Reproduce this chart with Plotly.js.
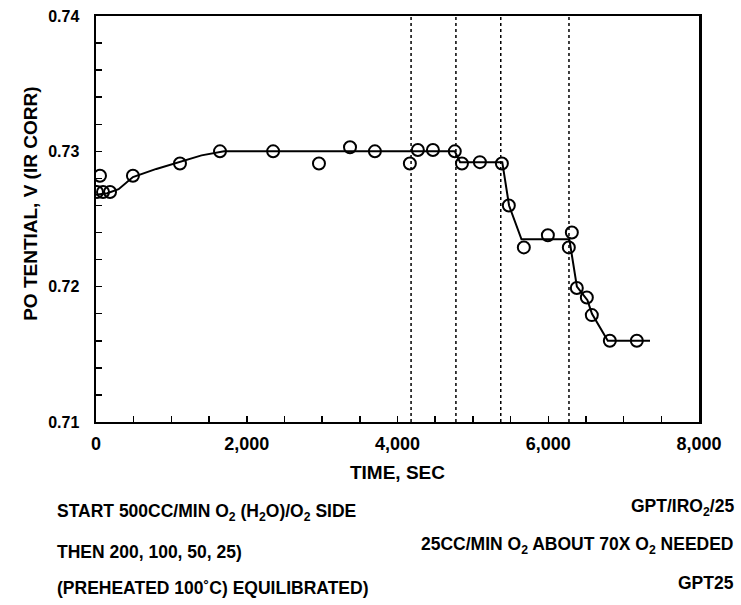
<!DOCTYPE html>
<html>
<head>
<meta charset="utf-8">
<script src="https://cdn.plot.ly/plotly-3.0.1.min.js"></script>
<style>
html,body{margin:0;padding:0;background:#fff;}
#chart{width:741px;height:605px;}
</style>
</head>
<body>
<div id="chart"></div>
<script>
// Measured points
var timeSec = [13, 53, 93, 186, 490, 1114, 1645, 2350, 2958, 3370, 3700, 4164, 4270, 4470, 4760, 4855, 5093, 5385, 5477, 5676, 5995, 6313, 6273, 6379, 6512, 6578, 6817, 7175];
var potential = [0.7270, 0.7282, 0.7270, 0.7270, 0.7282, 0.7291, 0.7300, 0.7300, 0.7291, 0.7303, 0.7300, 0.7291, 0.7301, 0.7301, 0.7300, 0.7291, 0.7292, 0.7291, 0.7260, 0.7229, 0.7238, 0.7240, 0.7229, 0.7199, 0.7192, 0.7179, 0.7160, 0.7160];

// Hand-drawn fitted curve
var fitTime = [0, 150, 300, 490, 800, 1114, 1400, 1700, 2400, 3000, 3700, 4300, 4760, 4830, 5100, 5390, 5480, 5645, 6000, 6280, 6380, 6520, 6580, 6790, 7350];
var fitPotential = [0.7268, 0.7269, 0.7272, 0.7281, 0.7287, 0.7292, 0.7297, 0.7300, 0.7300, 0.7300, 0.7300, 0.7300, 0.7300, 0.7292, 0.7292, 0.7292, 0.7260, 0.7235, 0.7235, 0.7235, 0.7200, 0.7190, 0.7180, 0.7160, 0.7160];

// Vertical dotted markers (flow changes)
var changeTimes = [4180, 4775, 5370, 6275];

var xTickVals = [0, 2000, 4000, 6000, 8000];
var xTickText = ['0', '2,000', '4,000', '6,000', '8,000'];
var yTickVals = [0.71, 0.72, 0.73, 0.74];
var yTickText = ['0.71', '0.72', '0.73', '0.74'];

var yTitle = 'PO TENTIAL, V (IR CORR)';
var xTitle = 'TIME, SEC';

var noteLeft = [
  'START 500CC/MIN O<sub>2</sub> (H<sub>2</sub>O)/O<sub>2</sub> SIDE',
  'THEN 200, 100, 50, 25)',
  '(PREHEATED 100\u02DAC) EQUILIBRATED)'
];
var noteRight = [
  'GPT/IRO<sub>2</sub>/25',
  '25CC/MIN O<sub>2</sub> ABOUT 70X O<sub>2</sub> NEEDED',
  'GPT25'
];

// detect a condensed font
function hasFont(name) {
  var c = document.createElement('canvas').getContext('2d');
  var s = 'START 500CC/MIN 2,000';
  c.font = 'bold 40px monospace';
  var w0 = c.measureText(s).width;
  c.font = 'bold 40px "' + name + '", monospace';
  var w1 = c.measureText(s).width;
  return Math.abs(w1 - w0) > 1;
}
var narrow = hasFont('Liberation Sans Narrow');
var FONT = narrow ? 'Liberation Sans Narrow, Liberation Sans, Arial, sans-serif' : 'Liberation Sans, Arial, sans-serif';
var SZ = narrow ? {xt: 21, yt: 18, note: 21, xtitle: 22, ytitle: 22} : {xt: 18, yt: 16, note: 17.5, xtitle: 19, ytitle: 19};

var traces = [
  {x: fitTime, y: fitPotential, mode: 'lines', type: 'scatter',
   line: {color: '#000', width: 2}, hoverinfo: 'skip', showlegend: false},
  {x: timeSec, y: potential, mode: 'markers', type: 'scatter',
   marker: {symbol: 'circle-open', size: 12, color: '#000', line: {width: 2, color: '#000'}},
   showlegend: false}
];

var shapes = changeTimes.map(function(t){
  return {type: 'line', xref: 'x', yref: 'paper', x0: t, x1: t, y0: 0, y1: 1,
          line: {color: '#000', width: 1.5, dash: 'dot'}};
});

var leftY = [-0.2217, -0.3202, -0.4089];
var rightY = [-0.2094, -0.3030, -0.3966];
var annotations = [];
for (var i = 0; i < noteLeft.length; i++) {
  annotations.push({xref: 'paper', yref: 'paper', x: -0.068, y: leftY[i], xanchor: 'left', yanchor: 'middle',
    text: noteLeft[i], showarrow: false, font: {family: FONT, size: SZ.note, color: '#000', weight: 'bold'}});
  annotations.push({xref: 'paper', yref: 'paper', x: 1.062, y: rightY[i], xanchor: 'right', yanchor: 'middle',
    text: noteRight[i], showarrow: false, font: {family: FONT, size: SZ.note, color: '#000', weight: 'bold'}});
}
// y-axis title (rotated), placed slightly above the plot centre as in the original
annotations.push({xref: 'paper', yref: 'paper', x: -0.108, y: 0.537, xanchor: 'center', yanchor: 'middle',
  textangle: -90, text: yTitle, showarrow: false,
  font: {family: FONT, size: SZ.ytitle, color: '#000', weight: 'bold'}});

var layout = {
  width: 741, height: 605,
  margin: {l: 96, r: 42, t: 16, b: 183},
  paper_bgcolor: '#fff', plot_bgcolor: '#fff',
  font: {family: FONT, color: '#000', size: 15, weight: 'bold'},
  xaxis: {
    range: [0, 8000], tickvals: xTickVals, ticktext: xTickText,
    ticks: 'inside', ticklen: 6, tickwidth: 1.5, tickcolor: '#000',
    minor: {dtick: 500, tick0: 0, ticks: 'inside', ticklen: 6, tickwidth: 1.5, tickcolor: '#000'},
    showline: true, linecolor: '#000', linewidth: 2, mirror: true,
    showgrid: false, zeroline: false,
    ticklabelstandoff: 4,
    tickfont: {family: FONT, size: SZ.xt, weight: 'bold'},
    title: {text: xTitle, font: {family: FONT, size: SZ.xtitle, weight: 'bold'}, standoff: 13}
  },
  yaxis: {
    range: [0.71, 0.74], tickvals: yTickVals, ticktext: yTickText,
    ticks: 'inside', ticklen: 6, tickwidth: 1.5, tickcolor: '#000',
    minor: {dtick: 0.002, tick0: 0.71, ticks: 'inside', ticklen: 6, tickwidth: 1.5, tickcolor: '#000'},
    showline: true, linecolor: '#000', linewidth: 2.5, mirror: true,
    showgrid: false, zeroline: false,
    ticklabelstandoff: 11,
    tickfont: {family: FONT, size: SZ.yt, weight: 'bold'}
  },
  shapes: shapes,
  annotations: annotations
};

Plotly.newPlot('chart', traces, layout, {displayModeBar: false, staticPlot: true});
</script>
</body>
</html>
